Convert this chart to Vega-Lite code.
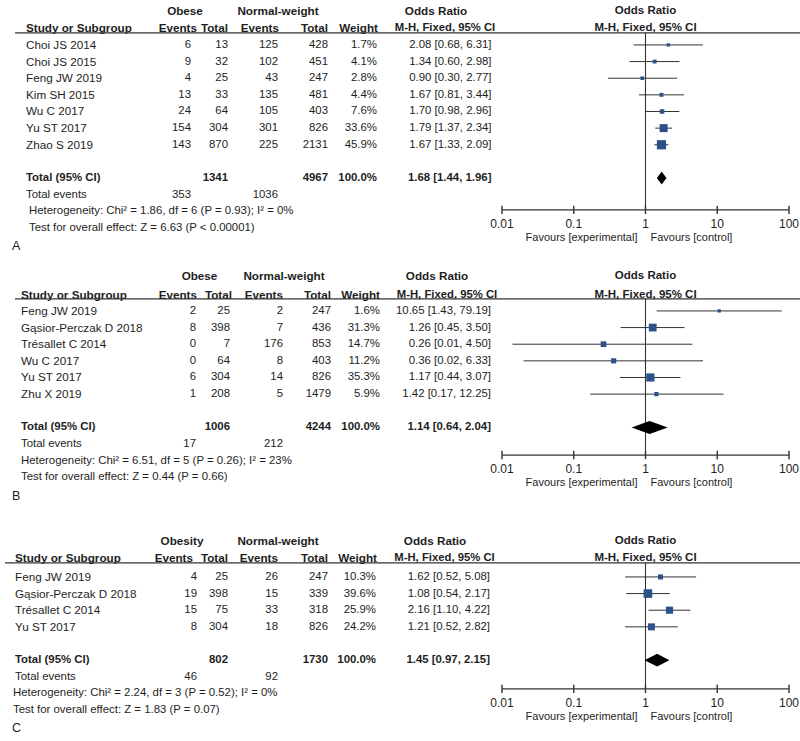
{
  "$schema": "https://vega.github.io/schema/vega-lite/v6.json",
  "background": "white",
  "padding": 0,
  "data": {"values": [
    {"kind":"study","panel":"A","row":1,"study":"Choi JS 2014","e1":6,"n1":13,"e2":125,"n2":428,"w":1.7,"est":2.08,"lo":0.68,"hi":6.31},
    {"kind":"study","panel":"A","row":2,"study":"Choi JS 2015","e1":9,"n1":32,"e2":102,"n2":451,"w":4.1,"est":1.34,"lo":0.60,"hi":2.98},
    {"kind":"study","panel":"A","row":3,"study":"Feng JW 2019","e1":4,"n1":25,"e2":43,"n2":247,"w":2.8,"est":0.90,"lo":0.30,"hi":2.77},
    {"kind":"study","panel":"A","row":4,"study":"Kim SH 2015","e1":13,"n1":33,"e2":135,"n2":481,"w":4.4,"est":1.67,"lo":0.81,"hi":3.44},
    {"kind":"study","panel":"A","row":5,"study":"Wu C 2017","e1":24,"n1":64,"e2":105,"n2":403,"w":7.6,"est":1.70,"lo":0.98,"hi":2.96},
    {"kind":"study","panel":"A","row":6,"study":"Yu ST 2017","e1":154,"n1":304,"e2":301,"n2":826,"w":33.6,"est":1.79,"lo":1.37,"hi":2.34},
    {"kind":"study","panel":"A","row":7,"study":"Zhao S 2019","e1":143,"n1":870,"e2":225,"n2":2131,"w":45.9,"est":1.67,"lo":1.33,"hi":2.09},
    {"kind":"pooled","panel":"A","row":9,"g1":"Obese","n1":1341,"n2":4967,"e1":353,"e2":1036,"w":100,"est":1.68,"lo":1.44,"hi":1.96,"het":"Heterogeneity: Chi² = 1.86, df = 6 (P = 0.93); I² = 0%","test":"Test for overall effect: Z = 6.63 (P < 0.00001)"},
    {"kind":"study","panel":"B","row":1,"study":"Feng JW 2019","e1":2,"n1":25,"e2":2,"n2":247,"w":1.6,"est":10.65,"lo":1.43,"hi":79.19},
    {"kind":"study","panel":"B","row":2,"study":"Gąsior-Perczak D 2018","e1":8,"n1":398,"e2":7,"n2":436,"w":31.3,"est":1.26,"lo":0.45,"hi":3.50},
    {"kind":"study","panel":"B","row":3,"study":"Trésallet C 2014","e1":0,"n1":7,"e2":176,"n2":853,"w":14.7,"est":0.26,"lo":0.014,"hi":4.50},
    {"kind":"study","panel":"B","row":4,"study":"Wu C 2017","e1":0,"n1":64,"e2":8,"n2":403,"w":11.2,"est":0.36,"lo":0.02,"hi":6.33},
    {"kind":"study","panel":"B","row":5,"study":"Yu ST 2017","e1":6,"n1":304,"e2":14,"n2":826,"w":35.3,"est":1.17,"lo":0.44,"hi":3.07},
    {"kind":"study","panel":"B","row":6,"study":"Zhu X 2019","e1":1,"n1":208,"e2":5,"n2":1479,"w":5.9,"est":1.42,"lo":0.17,"hi":12.25},
    {"kind":"pooled","panel":"B","row":8,"g1":"Obese","n1":1006,"n2":4244,"e1":17,"e2":212,"w":100,"est":1.14,"lo":0.64,"hi":2.04,"het":"Heterogeneity: Chi² = 6.51, df = 5 (P = 0.26); I² = 23%","test":"Test for overall effect: Z = 0.44 (P = 0.66)"},
    {"kind":"study","panel":"C","row":1,"study":"Feng JW 2019","e1":4,"n1":25,"e2":26,"n2":247,"w":10.3,"est":1.62,"lo":0.52,"hi":5.08},
    {"kind":"study","panel":"C","row":2,"study":"Gąsior-Perczak D 2018","e1":19,"n1":398,"e2":15,"n2":339,"w":39.6,"est":1.08,"lo":0.54,"hi":2.17},
    {"kind":"study","panel":"C","row":3,"study":"Trésallet C 2014","e1":15,"n1":75,"e2":33,"n2":318,"w":25.9,"est":2.16,"lo":1.10,"hi":4.22},
    {"kind":"study","panel":"C","row":4,"study":"Yu ST 2017","e1":8,"n1":304,"e2":18,"n2":826,"w":24.2,"est":1.21,"lo":0.52,"hi":2.82},
    {"kind":"pooled","panel":"C","row":6,"g1":"Obesity","n1":802,"n2":1730,"e1":46,"e2":92,"w":100,"est":1.45,"lo":0.97,"hi":2.15,"het":"Heterogeneity: Chi² = 2.24, df = 3 (P = 0.52); I² = 0%","test":"Test for overall effect: Z = 1.83 (P = 0.07)"},
    {"kind":"tick","panel":"A","v":0.01},{"kind":"tick","panel":"A","v":0.1},{"kind":"tick","panel":"A","v":1},{"kind":"tick","panel":"A","v":10},{"kind":"tick","panel":"A","v":100},
    {"kind":"tick","panel":"B","v":0.01},{"kind":"tick","panel":"B","v":0.1},{"kind":"tick","panel":"B","v":1},{"kind":"tick","panel":"B","v":10},{"kind":"tick","panel":"B","v":100},
    {"kind":"tick","panel":"C","v":0.01},{"kind":"tick","panel":"C","v":0.1},{"kind":"tick","panel":"C","v":1},{"kind":"tick","panel":"C","v":10},{"kind":"tick","panel":"C","v":100}
  ]},
  "transform": [
    {"calculate": "indexof(['A','B','C'], datum.panel)", "as": "p"},
    {"calculate": "[10.91, 9.66, 7.73][datum.p]", "as": "ay"}
  ],
  "facet": {"row": {"field": "panel", "type": "nominal", "header": null}},
  "spacing": {"row": 57},
  "bounds": "flush",
  "spec": {
    "width": 800,
    "height": 209,
    "resolve": {"scale": {"x": "independent"}},
    "layer": [
      {
        "layer": [
          {
            "transform": [{"filter": "datum.kind=='pooled'"},{"calculate": "datum.p*20+3","as":"xi"},{"calculate":"[-1.05,-1.1,-1.16][datum.p]","as":"yy"}],
            "mark": {"type":"text","fontWeight":"bold","align":"center","fontSize":11.7},
            "encoding": {
              "x": {"field":"xi","type":"quantitative","axis":null,"scale":{"type":"linear","nice":false,"zero":false,"domain":[0,1,2,3,4,5,6,7,8,9,10,11,12,13,14,15,16,17,18,19,20,21,22,23,24,25,26,27,28,29,30,31,32,33,34,35,36,37,38,39,40,41,42,43,44,45,46,47,48,49,50,51,52,53,54,55,56,57,58,59],"range":[12,15,26,185,278,436,197,228,279,328,378,445,191,228,278,328,377,491.5,800,29,12,15,21,199.5,284,437,197,232,283,331,380,447,196,230,283,331,380,491,800,21,12,5,15,182,278,435,193,228,278,328,377,444.5,197,228,278,328,376,490,800,13]}},
              "y": {"field":"yy","type":"quantitative","axis":null,"scale":{"domain":[-1.7,10.86],"reverse":true,"nice":false,"zero":false}},
              "text": {"field":"g1","type":"nominal"}
            }
          },
          {
            "transform": [{"filter": "datum.kind=='pooled'"},{"fold":["h4","h5"],"as":["hk","hv"]},{"calculate":"datum.p*20+(datum.hk=='h4'?4:5)","as":"xi"},{"calculate":"datum.hk=='h4'?'Normal-weight':'Odds Ratio'","as":"txt"},{"calculate":"[-1.05,-1.1,-1.16][datum.p]","as":"yy"}],
            "mark": {"type":"text","fontWeight":"bold","align":"center","fontSize":11.7},
            "encoding": {
              "x": {"field":"xi","type":"quantitative","axis":null},
              "y": {"field":"yy","type":"quantitative","axis":null},
              "text": {"field":"txt","type":"nominal"}
            }
          },
          {
            "transform": [{"filter": "datum.kind=='pooled'"},{"calculate": "datum.p*20+2","as":"xi"},{"calculate":"[0,0.04,-0.14][datum.p]","as":"yy"}],
            "mark": {"type":"text","fontWeight":"bold","align":"left","fontSize":11.7,"text":"Study or Subgroup"},
            "encoding": {
              "x": {"field":"xi","type":"quantitative","axis":null},
              "y": {"field":"yy","type":"quantitative","axis":null}
            }
          },
          {
            "transform": [{"filter": "datum.kind=='pooled'"},{"fold":["c6","c7","c8","c9","c10"],"as":["hk","hv"]},{"calculate":"datum.p*20+6+indexof(['c6','c7','c8','c9','c10'],datum.hk)","as":"xi"},{"calculate":"['Events','Total','Events','Total','Weight'][indexof(['c6','c7','c8','c9','c10'],datum.hk)]","as":"txt"},{"calculate":"[0,0.04,-0.14][datum.p]","as":"yy"}],
            "mark": {"type":"text","fontWeight":"bold","align":"right","fontSize":11.7},
            "encoding": {
              "x": {"field":"xi","type":"quantitative","axis":null},
              "y": {"field":"yy","type":"quantitative","axis":null},
              "text": {"field":"txt","type":"nominal"}
            }
          },
          {
            "transform": [{"filter": "datum.kind=='pooled'"},{"calculate": "datum.p*20+11","as":"xi"},{"calculate":"[0,0.04,-0.14][datum.p]","as":"yy"}],
            "mark": {"type":"text","fontWeight":"bold","align":"center","fontSize":11.3,"text":"M-H, Fixed, 95% CI"},
            "encoding": {
              "x": {"field":"xi","type":"quantitative","axis":null},
              "y": {"field":"yy","type":"quantitative","axis":null}
            }
          },
          {
            "transform": [{"filter": "datum.kind=='pooled'"},{"calculate": "datum.p*20+1","as":"xi"},{"calculate": "datum.p*20+18","as":"xj"},{"calculate":"[0.28,0.28,0.16][datum.p]","as":"yy"}],
            "mark": {"type":"rule","color":"#333333","strokeWidth":1.3},
            "encoding": {
              "x": {"field":"xi","type":"quantitative","axis":null},
              "x2": {"field":"xj"},
              "y": {"field":"yy","type":"quantitative","axis":null}
            }
          },
          {
            "transform": [{"filter": "datum.kind=='study'"},{"calculate": "datum.p*20+2","as":"xi"}],
            "mark": {"type":"text","align":"left","fontSize":11.7},
            "encoding": {
              "x": {"field":"xi","type":"quantitative","axis":null},
              "y": {"field":"row","type":"quantitative","axis":null},
              "text": {"field":"study","type":"nominal"}
            }
          },
          {
            "transform": [{"filter": "datum.kind=='study'"},{"calculate":"format(datum.w,'.1f')+'%'","as":"wt"},{"calculate":"format(datum.est,'.2f')+' ['+format(datum.lo,'.2f')+', '+format(datum.hi,'.2f')+']'","as":"ci"},{"fold":["e1","n1","e2","n2","wt","ci"],"as":["col","val"]},{"calculate":"datum.p*20+12+indexof(['e1','n1','e2','n2','wt','ci'],datum.col)","as":"xi"}],
            "mark": {"type":"text","align":"right"},
            "encoding": {
              "x": {"field":"xi","type":"quantitative","axis":null},
              "y": {"field":"row","type":"quantitative","axis":null},
              "text": {"field":"val","type":"nominal"}
            }
          },
          {
            "transform": [{"filter": "datum.kind=='pooled'"},{"calculate": "datum.p*20+2","as":"xi"}],
            "mark": {"type":"text","align":"left","fontWeight":"bold","text":"Total (95% CI)"},
            "encoding": {
              "x": {"field":"xi","type":"quantitative","axis":null},
              "y": {"field":"row","type":"quantitative","axis":null}
            }
          },
          {
            "transform": [{"filter": "datum.kind=='pooled'"},{"calculate":"format(datum.w,'.1f')+'%'","as":"wt"},{"calculate":"format(datum.est,'.2f')+' ['+format(datum.lo,'.2f')+', '+format(datum.hi,'.2f')+']'","as":"ci"},{"fold":["n1","n2","wt","ci"],"as":["col","val"]},{"calculate":"datum.p*20+[13,15,16,17][indexof(['n1','n2','wt','ci'],datum.col)]","as":"xi"}],
            "mark": {"type":"text","align":"right","fontWeight":"bold"},
            "encoding": {
              "x": {"field":"xi","type":"quantitative","axis":null},
              "y": {"field":"row","type":"quantitative","axis":null},
              "text": {"field":"val","type":"nominal"}
            }
          },
          {
            "transform": [{"filter": "datum.kind=='pooled'"},{"calculate": "datum.p*20+2","as":"xi"},{"calculate":"datum.row+1","as":"yy"}],
            "mark": {"type":"text","align":"left","text":"Total events"},
            "encoding": {
              "x": {"field":"xi","type":"quantitative","axis":null},
              "y": {"field":"yy","type":"quantitative","axis":null}
            }
          },
          {
            "transform": [{"filter": "datum.kind=='pooled'"},{"fold":["e1","e2"],"as":["col","val"]},{"calculate":"datum.p*20+(datum.col=='e1'?12:14)","as":"xi"},{"calculate":"datum.row+1","as":"yy"}],
            "mark": {"type":"text","align":"right"},
            "encoding": {
              "x": {"field":"xi","type":"quantitative","axis":null},
              "y": {"field":"yy","type":"quantitative","axis":null},
              "text": {"field":"val","type":"nominal"}
            }
          },
          {
            "transform": [{"filter": "datum.kind=='pooled'"},{"fold":["het","test"],"as":["col","val"]},{"calculate":"datum.p*20+19","as":"xi"},{"calculate":"datum.row+(datum.col=='het'?2:3)","as":"yy"}],
            "mark": {"type":"text","align":"left"},
            "encoding": {
              "x": {"field":"xi","type":"quantitative","axis":null},
              "y": {"field":"yy","type":"quantitative","axis":null},
              "text": {"field":"val","type":"nominal"}
            }
          },
          {
            "transform": [{"filter": "datum.kind=='pooled'"},{"calculate":"datum.p*20","as":"xi"},{"calculate":"datum.row+4.1","as":"yy"}],
            "mark": {"type":"text","align":"left","fontSize":12.5},
            "encoding": {
              "x": {"field":"xi","type":"quantitative","axis":null},
              "y": {"field":"yy","type":"quantitative","axis":null},
              "text": {"field":"panel","type":"nominal"}
            }
          }
        ]
      },
      {
        "layer": [
          {
            "transform": [{"filter": "datum.kind=='pooled'"},{"fold":["hA","hB"],"as":["hk","hv"]},{"calculate":"datum.hk=='hA'?'Odds Ratio':'M-H, Fixed, 95% CI'","as":"txt"},{"calculate":"datum.hk=='hA'?[-1.05,-1.1,-1.16][datum.p]:[0,0.04,-0.14][datum.p]","as":"yy"}],
            "mark": {"type":"text","fontWeight":"bold","align":"center","fontSize":11.5},
            "encoding": {
              "x": {"datum": 1, "type":"quantitative","axis":null,"scale":{"type":"log","domain":[0.01,100],"range":[502,789],"nice":false}},
              "y": {"field":"yy","type":"quantitative","axis":null},
              "text": {"field":"txt","type":"nominal"}
            }
          },
          {
            "transform": [{"filter": "datum.kind=='pooled'"},{"calculate":"[0.28,0.28,0.16][datum.p]","as":"yy"}],
            "mark": {"type":"rule","color":"#333333","strokeWidth":1.1},
            "encoding": {
              "x": {"datum": 1, "type":"quantitative","axis":null},
              "y": {"field":"yy","type":"quantitative","axis":null},
              "y2": {"field":"ay"}
            }
          },
          {
            "transform": [{"filter": "datum.kind=='pooled'"}],
            "mark": {"type":"rule","color":"#333333","strokeWidth":1.3},
            "encoding": {
              "x": {"datum": 0.01, "type":"quantitative","axis":null},
              "x2": {"datum": 100},
              "y": {"field":"ay","type":"quantitative","axis":null}
            }
          },
          {
            "transform": [{"filter": "datum.kind=='tick'"},{"calculate":"datum.ay-0.25","as":"t1"},{"calculate":"datum.ay+0.25","as":"t2"}],
            "mark": {"type":"rule","color":"#333333","strokeWidth":1.4},
            "encoding": {
              "x": {"field":"v","type":"quantitative","axis":null},
              "y": {"field":"t1","type":"quantitative","axis":null},
              "y2": {"field":"t2"}
            }
          },
          {
            "transform": [{"filter": "datum.kind=='tick'"},{"calculate":"datum.ay+0.85","as":"yy"}],
            "mark": {"type":"text","align":"center","fontSize":12},
            "encoding": {
              "x": {"field":"v","type":"quantitative","axis":null},
              "y": {"field":"yy","type":"quantitative","axis":null},
              "text": {"field":"v","type":"nominal"}
            }
          },
          {
            "transform": [{"filter": "datum.kind=='pooled'"},{"calculate":"datum.ay+1.67","as":"yy"}],
            "mark": {"type":"text","align":"right","dx":-8,"fontSize":11,"text":"Favours [experimental]"},
            "encoding": {
              "x": {"datum": 1, "type":"quantitative","axis":null},
              "y": {"field":"yy","type":"quantitative","axis":null}
            }
          },
          {
            "transform": [{"filter": "datum.kind=='pooled'"},{"calculate":"datum.ay+1.67","as":"yy"}],
            "mark": {"type":"text","align":"left","dx":5,"fontSize":11,"text":"Favours [control]"},
            "encoding": {
              "x": {"datum": 1, "type":"quantitative","axis":null},
              "y": {"field":"yy","type":"quantitative","axis":null}
            }
          },
          {
            "transform": [{"filter": "datum.kind=='study'"}],
            "mark": {"type":"rule","color":"#333333","strokeWidth":1},
            "encoding": {
              "x": {"field":"lo","type":"quantitative","axis":null},
              "x2": {"field":"hi"},
              "y": {"field":"row","type":"quantitative","axis":null}
            }
          },
          {
            "transform": [{"filter": "datum.kind=='study'"}],
            "mark": {"type":"point","shape":"square","filled":true,"opacity":1,"color":"#2D5289"},
            "encoding": {
              "x": {"field":"est","type":"quantitative","axis":null},
              "y": {"field":"row","type":"quantitative","axis":null},
              "size": {"field":"w","type":"quantitative","legend":null,"scale":{"domain":[0,50],"range":[8,92]}}
            }
          },
          {
            "transform": [{"filter": "datum.kind=='pooled'"},{"fold":["lo","est","hi"],"as":["pt","xv"]},{"calculate":"datum.row-(datum.pt=='est'?0.39:0)","as":"ya"},{"calculate":"datum.row+(datum.pt=='est'?0.39:0)","as":"yb"}],
            "mark": {"type":"area","orient":"vertical","color":"#000000","opacity":1},
            "encoding": {
              "x": {"field":"xv","type":"quantitative","axis":null},
              "y": {"field":"ya","type":"quantitative","axis":null},
              "y2": {"field":"yb"}
            }
          }
        ]
      }
    ]
  },
  "config": {
    "view": {"stroke": null},
    "text": {"font": "Liberation Sans", "fontSize": 11.4, "color": "#1e1e1e", "baseline": "middle"}
  }
}
